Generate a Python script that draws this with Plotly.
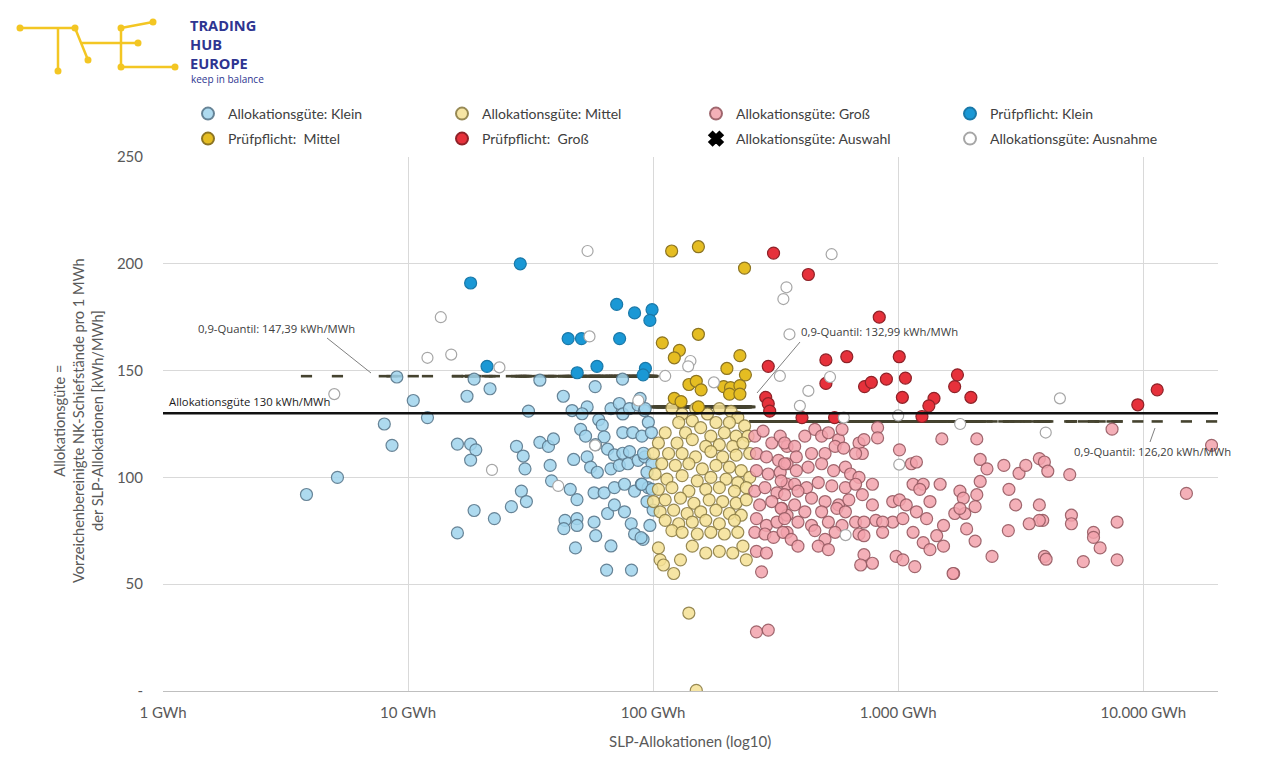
import plotly.graph_objects as go

# ---------------- data (GWh, kWh/MWh) ----------------
klein = [(9,147),(18.6,146),(10.5,136),(17.4,138),(12,128),(8,125),(8.6,115),(15.9,115.6),(18,115.6),(18.9,112.9),
         (18,108.1),(5.15,100),(3.85,92),(18.6,84.5),(15.9,74),
         (21.6,141.5),(34.5,145.5),(31,131),(43,138),(58,142.5),(75,146),
         (46.7,131.3),(53.8,133),(51.3,129.8),(60,127),(62,124.5),
         (67.3,132.2),(72.8,134.6),(75.2,129.7),(80,132.2),(86.8,133.8),(92.2,131.3),
         (50.6,122.5),(53,119.3),(63.1,119),(75.2,121),(82.6,121),
         (27.7,114.5),(29.5,110),(34.5,116.4),(37.4,114.5),(39.2,118),(38,105.6),(30,104),
         (47.4,108.4),(53.8,109.6),(58.2,115.3),(65.2,113.2),(69.5,110.5),(75.2,111.3),(80.1,112.1),
         (55.6,104.8),(59.2,102.4),(67.3,104),(72.8,105.6),(78.9,106.4),(86.8,108),(92.5,109.6),
         (38.5,98.4),(45.9,94.4),(48.9,89.6),(57.4,92.8),(63.1,92.8),(69.5,95.2),(76.4,96.8),(84,93.6),(89.6,96.8),(95.4,95.2),
         (29,93.6),(30.4,88.7),(26.4,86.3),(22.5,80.7),
         (43.7,79.9),(48.9,80.7),(43.2,76),(48.9,77.5),(57.4,79.1),(58.3,72.7),(65.2,83.1),(69.5,87.1),(76.4,83.9),
         (81.4,78.3),(84,73.5),(91,71),(97,77.5),
         (48.2,67),(67.3,67.9),(64.6,56.6),(81.6,56.6),
         (88.5,137),(92.9,132.2),(95.6,125.8),(90,119.3),(98.4,121),(91.4,111.3),(98.9,106.4),(94.4,102.4),
         (90,96.8),(98.9,94.4),(94.4,88.7),(100,84.7),(89.3,71.8)]
klein_x = [p[0] for p in klein]
klein_y = [p[1] for p in klein]

mittel = [(119.3,132.5),(131.3,129.7),(149,132.2),(166.6,129.7),(186.3,132.2),(208,130.9),(221.6,128.1),(127.2,125.7),
          (144.5,126.5),(180.5,125.7),(204.8,125.7),(236.2,124.1),
          (112,120.9),(135.6,120.9),(156.3,123.3),(172,119.3),(195.3,120.9),(218.1,119.3),(243.9,119.3),(105.1,116.1),
          (125.2,116.1),(144.5,117.7),(164,114.5),(186.3,115.3),(211.3,114.5),(232.5,116.1),
          (100.3,111.2),(115.6,111.2),(131.3,111.2),(149,109.6),(172,112.1),(192.2,109.6),(218.1,110.4),(247.8,111.2),
          (108.5,106.4),(123.2,105.6),(139.9,106.4),(158.8,104),(180.5,105.6),(204.8,104.8),(228.8,103.2),
          (101.9,101.6),(113.8,99.2),(131.3,100.8),(151.4,98.4),(172,100),(198.4,99.2),(221.6,97.6),(247.8,100),
          (105.1,94.4),(119.3,95.2),(139.9,93.6),(164,94.4),(186.3,95.2),(214.7,93.6),(240,95.2),
          (100.3,88.7),(112,89.5),(129.3,90.3),(146.7,87.9),(169.3,89.5),(192.2,88.7),(218.1,87.9),(240,89.5),
          (106.8,83.9),(121.3,84.7),(137.7,83.1),(156.3,83.9),(180.5,84.7),(204.8,83.1),(228.8,82.3),
          (112,79.9),(127.2,78.3),(144.5,79.1),(164,79.9),(186.3,78.3),(214.7,79.9),(119.3,75.1),(131.3,74.3),
          (151.4,73.5),(172,74.3),(195.3,73.5),(221.6,74.3),
          (105.1,67),(144.5,67.8),(164,64.6),(186.3,65.4),(211.3,64.6),(232.5,67.8),(106.8,61.4),(110.2,59),
          (129.3,61.4),(121.3,55),(240,61.4),
          (139.9,36.5),(150,0.3)]
mittel_x = [p[0] for p in mittel]
mittel_y = [p[1] for p in mittel]

gross = [(260,119.3),(281,121.7),(305,116.1),(330,119.3),(352,114.5),(264,111.2),(290,109.6),(325,108),(352,106.4),
         (264,103.2),(295,101.6),(330,102.4),(352,96.8),(260,93.6),(286,95.2),(320,92.8),(272,87.1),(305,88.7),
         (335,85.5),(352,82.3),(264,80.7),(290,77.5),(320,79.1),(352,74.3),(260,74.3),(286,73.5),(310,71.9),
         (264,65.4),(290,64.6),(277,55.8),(264,27.7),(295,28.5),
         (824,123.3),(824,118.5),(1507,118),(1012,112.9),(1132,106.4),(1187,107.2),
         (344,116.1),(378,114.5),(416,119.3),(457,122.5),(487,119.3),(519,120.9),(571,117.7),(590,122.5),(384,109.6),
         (443,111.2),(503,111.2),(553,114.5),(599,113.7),(692,116.1),(725,117.7),(714,111.2),(670,111.2),
         (344,106.4),(384,103.2),(429,104.8),(487,106.4),(545,103.2),(609,104.8),(639,101.6),(692,100),(785,96.8),
         (333,98.4),(378,96.8),(423,95.2),(472,97.6),(536,96),(609,95.2),(670,96.8),
         (1150,96.8),(1265,96.8),(1483,96.8),(1225,94.4),
         (344,91.9),(390,93.6),(443,90.3),(503,88.7),(571,87.1),(629,89.5),(714,91.9),(333,85.5),(378,87.1),
         (416,83.9),(487,83.9),(562,85.5),(609,83.9),(785,87.1),
         (950,88.7),(1012,89.5),(1079,87.1),(1187,83.9),(1348,88.7),(1306,80.7),(1531,77.5),(950,79.1),(1045,80.7),
         (344,80.7),(390,79.1),(443,77.5),(519,79.1),(590,77.5),(670,79.1),(725,79.1),(811,79.9),(864,79.1),
         (339,74.3),(366,71),(457,75.1),(503,71),(553,74.3),(692,73.5),(725,72.7),(864,74.3),(1150,74.3),
         (1265,69.5),(1436,72.7),(1531,67.8),(1348,66.2),
         (390,67.8),(472,67.8),(519,66.2),(725,63.8),(785,59.8),(703,59),(981,63),(1045,61.4),(1169,58.2),(1684,55),
         (7459,122.6),(2093,118),(2161,108.4),(2303,104),(2699,105.6),(3112,101.9),(3317,105.6),(3767,108.8),
         (3950,107.2),(4078,102.9),(5012,101.3),(19000,115),
         (1786,93.6),(1844,90.3),(2093,91.9),(2161,98.1),(1702,83.1),(1870,83.1),(1786,85.5),(2060,86.3),
         (2831,94.4),(3015,87.1),(3767,87.1),(3889,79.9),(3767,79.9),(3424,78.3),(1902,75.9),(2060,70.2),(2815,75.1),
         (5092,82.3),(5092,78.3),(6266,74.3),(6266,71.9),(6668,67),(7822,79.1),(7822,61.4),(5693,60.6),(3950,63),
         (4014,61.7),(2415,63),(1675,55),(15000,92.5)]
gross_x = [p[0] for p in gross]
gross_y = [p[1] for p in gross]

pk_x = [18, 28.7, 21, 45, 51, 49, 59, 71, 73, 84, 99, 97, 93, 91]
pk_y = [191, 200, 152, 165, 165, 149, 152, 181, 165, 177, 178.5, 173.5, 151, 148]

pm_x = [119, 153, 236, 153, 109, 128, 122, 226, 200, 238, 140, 150, 157, 194, 207, 226, 205, 226, 122, 130, 153]
pm_y = [206, 208, 198, 167, 163, 159.5, 156, 157, 151, 148, 143.5, 145, 141, 142.5, 142, 143, 139, 139, 137, 135.5, 133]

pg_x = [310, 295, 288, 295, 299, 430, 837, 507, 617, 1010, 507, 729, 777, 895, 1070, 1040, 1400, 1334, 1250,
        1745, 1700, 1980, 405, 550, 9500, 11400]
pg_y = [205, 152, 137.5, 134.5, 131, 195, 175, 155, 156.5, 156.5, 144, 142.5, 144.5, 146, 146.5, 137.5, 137,
        133.5, 128.5, 148, 142.5, 137.5, 128, 128, 134, 141]

ausnahme_x = [13.6, 12, 15, 5, 22, 54, 55, 23.6, 87, 58, 41, 350, 340, 360, 142, 139, 112, 329, 177, 535, 527,
              430, 397, 600, 1000, 1010, 610, 4570, 1790, 4000]
ausnahme_y = [175, 156, 157.5, 139, 103.5, 206, 166, 151.5, 136, 115, 96, 189, 183.5, 167, 154.5, 152, 147.5,
              147.5, 144.5, 204.5, 147, 140.5, 133.5, 128, 129, 106, 73, 137, 125, 121]

auswahl_x = []
auswahl_y = []

quantil_klein = 147.39
quantil_mittel = 132.99
quantil_gross = 126.20
schwelle = 130

x_ticks = [1, 10, 100, 1000, 10000]
x_ticktext = ["1 GWh", "10 GWh", "100 GWh", "1.000 GWh", "10.000 GWh"]
y_ticks = [0, 50, 100, 150, 200, 250]
y_ticktext = ["-", "50", "100", "150", "200", "250"]

# ---------------- figure ----------------
W, H = 1279, 769
L, R, T, B = 163, 1218, 157, 691
def px(x):
    return (x - L) / (R - L)
def py(y):
    return (B - y) / (B - T)

fig = go.Figure()

def dash_trace(xs, q):
    fig.add_trace(go.Scatter(
        x=xs, y=[q] * len(xs), mode="markers", showlegend=False, hoverinfo="skip",
        marker=dict(symbol="line-ew", size=8, line=dict(width=2.6, color="#45432f"))))

dash_trace(klein_x + pk_x, quantil_klein)
dash_trace(mittel_x + pm_x, quantil_mittel)
dash_trace(gross_x + pg_x, quantil_gross)

def pts(name, xs, ys, fill, edge, legend, symbol="circle", size=12):
    fig.add_trace(go.Scatter(
        x=xs if xs else [None], y=ys if ys else [None], mode="markers", name=name, legend=legend,
        marker=dict(symbol=symbol, size=size, color=fill, line=dict(width=1.2, color=edge))))

pts("Allokationsgüte: Klein", klein_x, klein_y, "rgba(160,212,236,0.85)", "rgba(90,120,140,0.9)", "legend")
pts("Allokationsgüte: Mittel", mittel_x, mittel_y, "rgba(244,224,148,0.85)", "rgba(140,125,70,0.9)", "legend")
pts("Allokationsgüte: Groß", gross_x, gross_y, "rgba(242,162,172,0.85)", "rgba(150,90,98,0.9)", "legend")
pts("Prüfpflicht: Klein", pk_x, pk_y, "#1a98d5", "#1a78a8", "legend")
pts("Prüfpflicht:\u00a0 Mittel", pm_x, pm_y, "#e5bd22", "#8c7422", "legend2")
pts("Prüfpflicht:\u00a0 Groß", pg_x, pg_y, "#e6313b", "#8e2228", "legend2")
pts("Allokationsgüte: Auswahl", auswahl_x, auswahl_y, "#000000", "#000000", "legend2", symbol="x", size=10)
pts("Allokationsgüte: Ausnahme", ausnahme_x, ausnahme_y, "#ffffff", "#a6a6a6", "legend2", size=11)

shapes = []
# threshold line
shapes.append(dict(type="line", xref="paper", x0=0, x1=1, yref="y", y0=schwelle, y1=schwelle,
                   line=dict(color="#111111", width=2.5), layer="above"))
# leader lines
for (x0, y0, x1, y1) in [(327, 338, 371, 373), (800, 342, 757, 393), (1155, 428, 1150, 442)]:
    shapes.append(dict(type="line", xref="paper", yref="paper", x0=px(x0), y0=py(y0), x1=px(x1), y1=py(y1),
                       line=dict(color="#808080", width=1)))
# logo
logo_yellow = "#f3c623"
for (x0, y0, x1, y1) in [(20, 28, 75, 28), (58, 28, 58, 71), (75, 28, 88, 60), (82, 43, 138, 43),
                         (121, 28, 121, 67), (121, 28, 153, 22), (121, 67, 175, 67)]:
    shapes.append(dict(type="line", xref="paper", yref="paper", x0=px(x0), y0=py(y0), x1=px(x1), y1=py(y1),
                       line=dict(color=logo_yellow, width=2.5)))
for (cx, cy) in [(20, 28), (75, 28), (58, 71), (88, 60), (138, 43), (153, 22), (121, 28), (121, 67), (175, 67)]:
    r = 3.5
    shapes.append(dict(type="circle", xref="paper", yref="paper", x0=px(cx - r), x1=px(cx + r),
                       y0=py(cy + r), y1=py(cy - r), fillcolor=logo_yellow, line=dict(width=0)))

ann_font = dict(family="Open Sans", size=11.3, color="#404040")
annotations = [
    dict(text="0,9-Quantil: 147,39 kWh/MWh", x=px(276), y=py(328), xanchor="center", yanchor="middle"),
    dict(text="Allokationsgüte 130 kWh/MWh", x=px(167), y=py(401), xanchor="left", yanchor="middle"),
    dict(text="0,9-Quantil: 132,99 kWh/MWh", x=px(799), y=py(331), xanchor="left", yanchor="middle"),
    dict(text="0,9-Quantil: 126,20 kWh/MWh", x=px(1072), y=py(451), xanchor="left", yanchor="middle"),
]
for a in annotations:
    a.update(xref="paper", yref="paper", showarrow=False, font=ann_font)
annotations[1]["font"] = dict(family="Open Sans", size=11.3, color="#1a1a1a")

annotations += [
    dict(text="Allokationsgüte =<br>Vorzeichenbereinigte NK-Schiefstände pro 1 MWh<br>der SLP-Allokationen [kWh/MWh]",
         xref="paper", yref="paper", x=px(78), y=py(421), textangle=-90, showarrow=False,
         font=dict(family="Lato", size=14.6, color="#595959"), xanchor="center", yanchor="middle"),
    dict(text="SLP-Allokationen (log10)", xref="paper", yref="paper", x=px(690), y=py(741), showarrow=False,
         font=dict(family="Lato", size=15, color="#595959"), xanchor="center", yanchor="middle"),
    dict(text="<b>TRADING<br>HUB<br>EUROPE</b>", xref="paper", yref="paper", x=px(188), y=py(44),
         xanchor="left", yanchor="middle", align="left", showarrow=False,
         font=dict(family="Open Sans", size=14.6, color="#2e3591")),
    dict(text="keep in balance", xref="paper", yref="paper", x=px(189), y=py(79),
         xanchor="left", yanchor="middle", showarrow=False,
         font=dict(family="Open Sans", size=10, color="#2e3591")),
]

leg_common = dict(orientation="h", xanchor="left", yanchor="top",
                  entrywidth=209, entrywidthmode="pixels", itemsizing="constant",
                  font=dict(family="Lato", size=14, color="#404040"), bgcolor="rgba(0,0,0,0)")

fig.update_layout(
    width=W, height=H,
    margin=dict(l=L, r=W - R, t=T, b=H - B, autoexpand=False),
    paper_bgcolor="white", plot_bgcolor="white",
    font=dict(family="Lato", size=14, color="#595959"),
    shapes=shapes, annotations=annotations,
    showlegend=True,
    legend=dict(x=px(188), y=py(98), **leg_common),
    legend2=dict(x=px(188), y=py(123), **leg_common),
    xaxis=dict(type="log", range=[0, 4.305], tickvals=x_ticks, ticktext=x_ticktext,
               showgrid=True, gridcolor="#d9d9d9", gridwidth=1, zeroline=False,
               showline=True, linecolor="#bfbfbf", linewidth=1, ticks="", ticklabelstandoff=8,
               tickfont=dict(family="Lato", size=15, color="#595959")),
    yaxis=dict(range=[0, 250], tickvals=y_ticks, ticktext=y_ticktext,
               showgrid=True, gridcolor="#d9d9d9", gridwidth=1, zeroline=False,
               showline=False, ticks="", ticklabelstandoff=19,
               tickfont=dict(family="Lato", size=15, color="#595959")),
)

fig.write_html("out.html", config={"displayModeBar": False},
               post_script="document.body.style.margin='0px';document.body.style.padding='0px';")
